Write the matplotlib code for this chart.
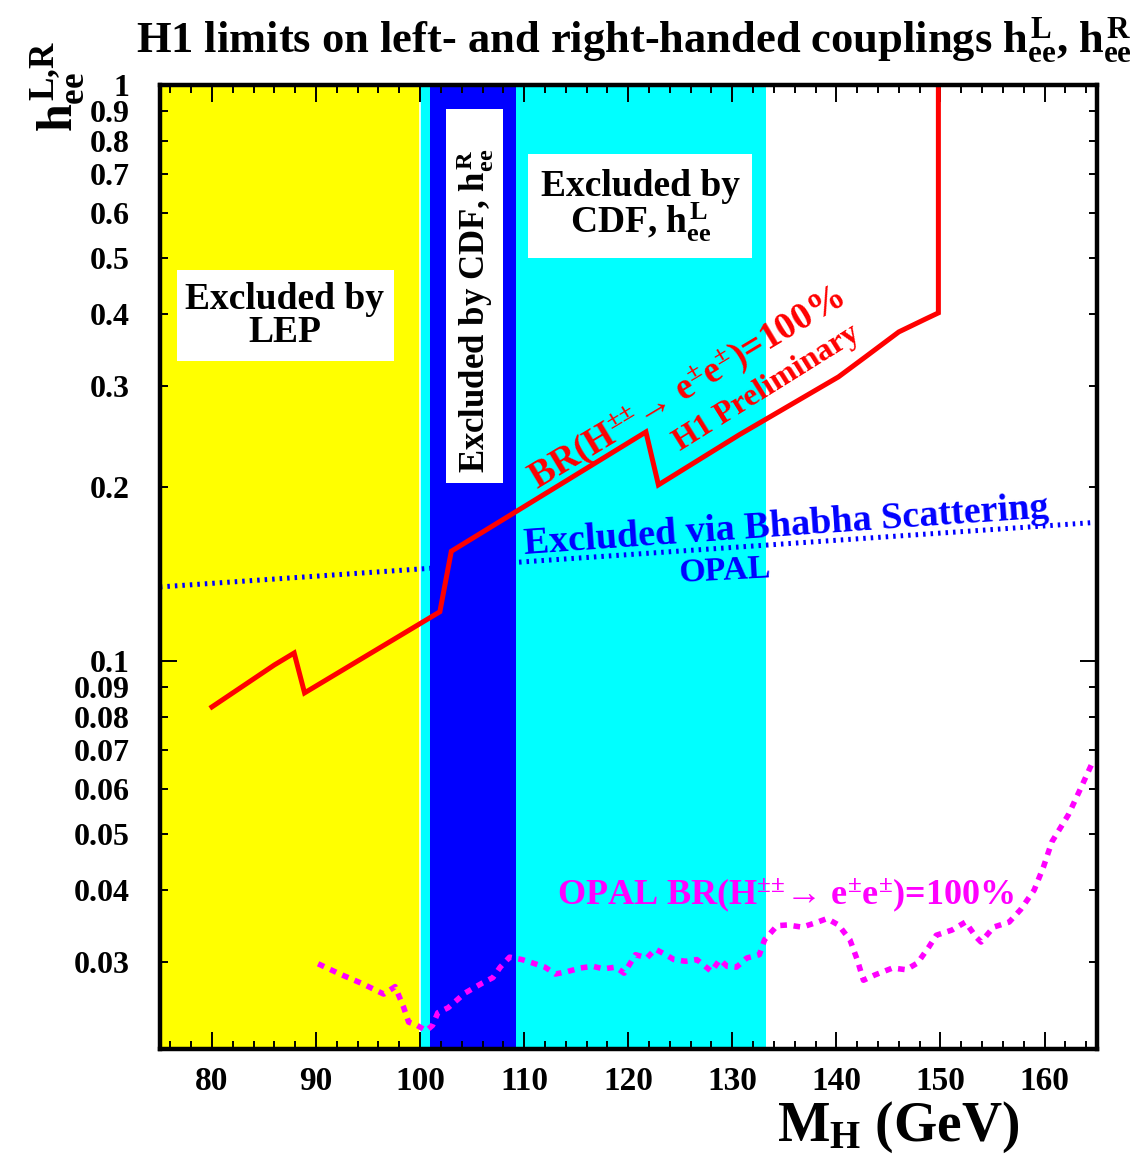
import matplotlib
matplotlib.use('Agg')
import matplotlib.pyplot as plt
from matplotlib.patches import Rectangle
from matplotlib.ticker import FixedLocator, FixedFormatter, MultipleLocator

plt.rcParams['font.family'] = ['Liberation Serif', 'DejaVu Serif']
plt.rcParams['font.weight'] = 'bold'
plt.rcParams['mathtext.fontset'] = 'custom'
plt.rcParams['mathtext.rm'] = 'Liberation Serif:bold'
plt.rcParams['mathtext.it'] = 'Liberation Serif:bold'
plt.rcParams['mathtext.bf'] = 'Liberation Serif:bold'

# H1 limit, BR(H++ -> e+e+) = 100%
h1_mass = [80.0, 86.0, 87.9, 88.9, 101.9, 103.0, 121.7, 122.9, 130.65,
           140.2, 142.8, 146.0, 148.6, 149.8, 149.8]
h1_limit = [0.0832, 0.0984, 0.1032, 0.0880, 0.1217, 0.155, 0.2497, 0.2021, 0.2468,
            0.3112, 0.3372, 0.3725, 0.3925, 0.4019, 1.0]

# OPAL Bhabha scattering limit
bhabha_mass = [75.0, 165.0]
bhabha_limit = [0.1344, 0.174]

# OPAL direct search, BR = 100%
opal_mass = [90.2, 92.3, 94.5, 96.5, 97.6, 98.4, 98.9, 99.7, 100.6, 101.2, 101.7, 102.7,
             104.3, 106.0, 107.0, 107.7, 108.6, 109.8, 110.8, 112.0, 113.0, 114.2, 115.4,
             116.6, 117.6, 118.8, 119.6, 120.7, 121.8, 122.6, 123.6, 124.4, 125.5, 126.6,
             128.0, 128.8, 129.5, 130.4, 131.4, 132.6, 133.1, 134.3, 135.3, 136.7, 138.0,
             139.1, 140.2, 141.3, 142.0, 142.6, 143.7, 145.4, 146.7, 147.8, 148.9, 149.6,
             151.1, 152.4, 153.4, 153.9, 155.1, 156.6, 157.7, 159.0, 159.9, 160.7, 162.3,
             163.4, 164.5]
opal_limit = [0.0298, 0.0286, 0.0275, 0.0264, 0.0272, 0.0251, 0.0236, 0.0233, 0.0228, 0.0233,
              0.0245, 0.0250, 0.0265, 0.0276, 0.0282, 0.0294, 0.0306, 0.0303, 0.0299, 0.0294,
              0.0286, 0.0289, 0.0293, 0.0295, 0.0292, 0.0294, 0.0287, 0.0309, 0.0305, 0.0316,
              0.0309, 0.0303, 0.0301, 0.0303, 0.0289, 0.0303, 0.0295, 0.0294, 0.0305, 0.0309,
              0.0328, 0.0347, 0.0348, 0.0345, 0.0351, 0.0357, 0.0348, 0.0328, 0.0303, 0.0279,
              0.0285, 0.0293, 0.0291, 0.0299, 0.0319, 0.0334, 0.0341, 0.0352, 0.0332, 0.0325,
              0.0345, 0.0352, 0.0370, 0.0400, 0.0439, 0.0485, 0.0541, 0.0597, 0.0660]

# excluded mass regions
lep_range = (75.0, 100.0)
cdf_l_range = (100.0, 133.2)
cdf_r_range = (101.0, 109.2)

y_minor = [0.03, 0.04, 0.05, 0.06, 0.07, 0.08, 0.09, 0.2, 0.3, 0.4, 0.5, 0.6, 0.7, 0.8, 0.9]
y_minor_labels = ['0.03', '0.04', '0.05', '0.06', '0.07', '0.08', '0.09',
                  '0.2', '0.3', '0.4', '0.5', '0.6', '0.7', '0.8', '0.9']
y_major = [0.1, 1.0]
y_major_labels = ['0.1', '1']

fig = plt.figure(figsize=(11.34, 11.56), dpi=100)
ax = fig.add_axes([0.141, 0.0926, 0.826, 0.834])
ax.set_yscale('log')
ax.set_xlim(75, 165)
ax.set_ylim(0.0212, 1.0)

ax.axvspan(*lep_range, color='#ffff00', lw=0, zorder=0)
ax.axvspan(*cdf_l_range, color='#00ffff', lw=0, zorder=0)
ax.axvspan(*cdf_r_range, color='#0000ff', lw=0, zorder=0.5)
ax.axvline(100.0, color='white', lw=1.2, zorder=0.6)

# white label boxes
ax.add_patch(Rectangle((76.6, 0.332), 20.9, 0.477 - 0.332, color='white', lw=0, zorder=1))
ax.add_patch(Rectangle((102.5, 0.2037), 5.45, 0.9085 - 0.2037, color='white', lw=0, zorder=1))
ax.add_patch(Rectangle((110.4, 0.5008), 21.5, 0.759 - 0.5008, color='white', lw=0, zorder=1))

ax.plot(bhabha_mass, bhabha_limit, color='#0000ff', lw=3.6, dashes=(0.5, 1.0), zorder=2)
ax.plot(h1_mass, h1_limit, color='#ff0000', lw=3.6, solid_joinstyle='miter', zorder=3)
ax.plot(opal_mass, opal_limit, color='#ff00ff', lw=4.0, dashes=(1.2, 1.2), zorder=3)

ax.text(87.0, 0.397, 'Excluded by\nLEP', ha='center', va='center', fontsize=27,
        fontweight='bold', linespacing=0.9, zorder=4)
ax.text(121.2, 0.616, 'Excluded by\nCDF, $h^L_{ee}$', ha='center', va='center', fontsize=27,
        fontweight='bold', linespacing=0.9, zorder=4)
ax.text(105.3, 0.405, 'Excluded by CDF, $h^R_{ee}$', ha='center', va='center', fontsize=25,
        fontweight='bold', rotation=90, zorder=4)

ax.text(125.6, 0.298, 'BR(H$^{{\\pm}{\\pm}}$\u2192 e$^{\\pm}$e$^{\\pm}$)=100%', color='#ff0000',
        ha='center', va='center', fontsize=27, fontweight='bold', rotation=31,
        rotation_mode='anchor', zorder=4)
ax.text(133.3, 0.298, 'H1 Preliminary', color='#ff0000', ha='center', va='center',
        fontsize=23, fontweight='bold', rotation=32, rotation_mode='anchor', zorder=4)
ax.text(135.2, 0.171, 'Excluded via Bhabha Scattering', color='#0000ff', ha='center',
        va='center', fontsize=27.5, fontweight='bold', rotation=4, rotation_mode='anchor', zorder=4)
ax.text(129.3, 0.1433, 'OPAL', color='#0000ff', ha='center', va='center', fontsize=24.5,
        fontweight='bold', rotation=3, rotation_mode='anchor', zorder=4)
ax.text(135.1, 0.0392, 'OPAL BR(H$^{{\\pm}{\\pm}}$\u2192 e$^{\\pm}$e$^{\\pm}$)=100%',
        color='#ff00ff', ha='center', va='center', fontsize=26, fontweight='bold', zorder=4)

ax.xaxis.set_major_locator(MultipleLocator(10))
ax.xaxis.set_minor_locator(MultipleLocator(2))
ax.yaxis.set_major_locator(FixedLocator(y_major))
ax.yaxis.set_major_formatter(FixedFormatter(y_major_labels))
ax.yaxis.set_minor_locator(FixedLocator(y_minor))
ax.yaxis.set_minor_formatter(FixedFormatter(y_minor_labels))

ax.tick_params(which='both', direction='in', top=True, right=True, width=1.4, color='black')
ax.tick_params(which='major', length=12)
ax.tick_params(which='minor', length=6)
ax.tick_params(axis='x', which='major', labelsize=24, pad=12)
ax.tick_params(axis='y', which='both', labelsize=23, pad=22)
for lab in ax.get_xticklabels() + ax.get_yticklabels() + ax.get_yticklabels(minor=True):
    lab.set_fontweight('bold')

for sp in ax.spines.values():
    sp.set_linewidth(3.2)
    sp.set_zorder(5)

fig.text(0.559, 0.955, 'H1 limits on left- and right-handed couplings $h^L_{ee}$, $h^R_{ee}$',
         ha='center', va='baseline', fontsize=32, fontweight='bold')
fig.text(0.052, 0.925, '$h^{L{,}R}_{ee}$', ha='center', va='center', rotation=90, fontsize=36,
         fontweight='bold')
fig.text(0.792, 0.025, '$M_H$ (GeV)', ha='center', va='center', fontsize=40, fontweight='bold')

fig.savefig('out.png', dpi=100)
